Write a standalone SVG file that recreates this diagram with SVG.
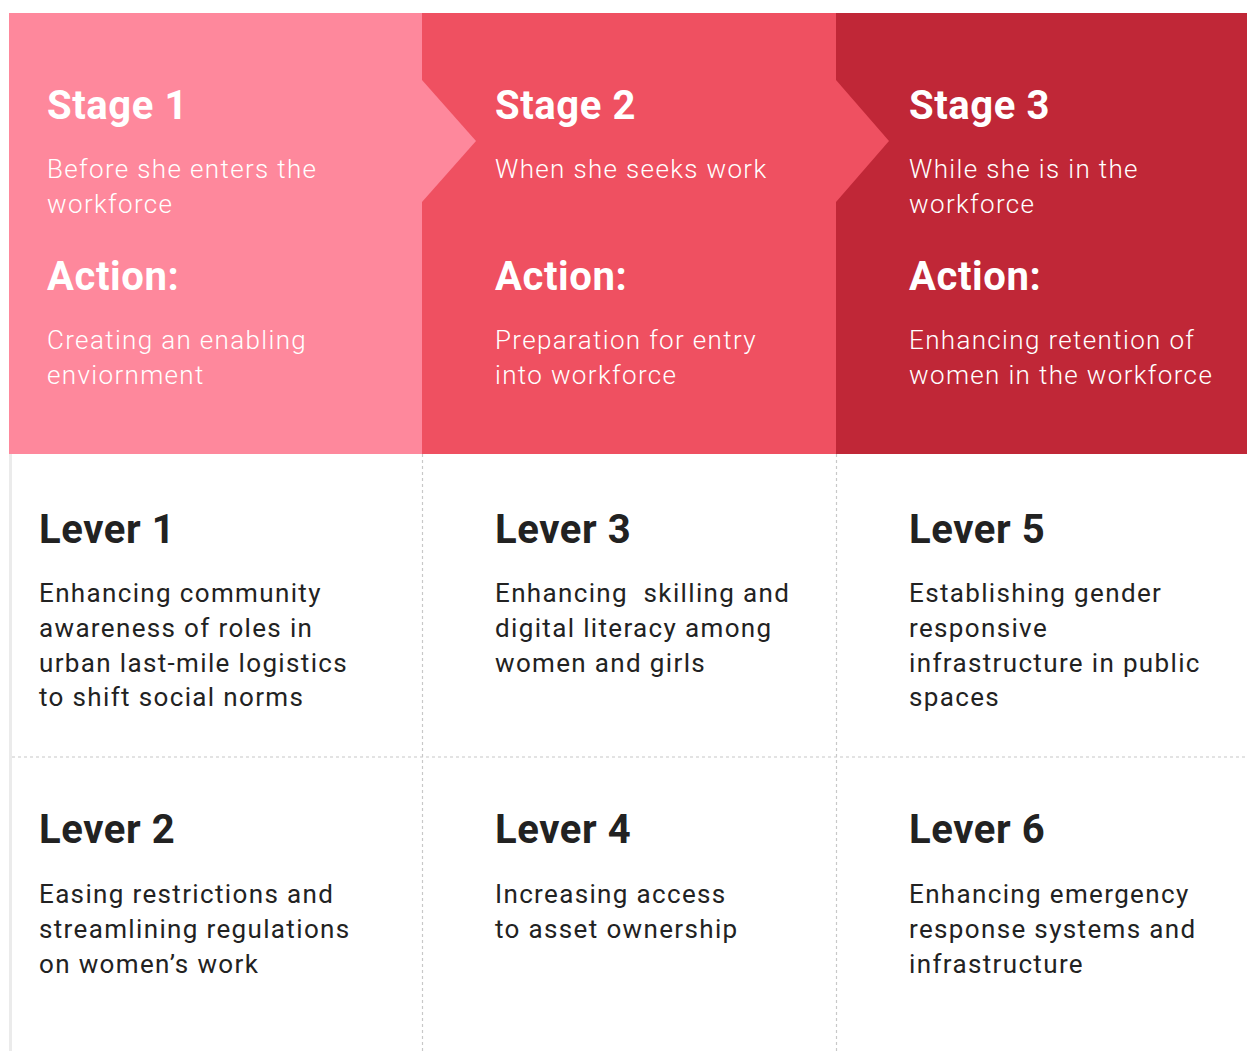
<svg xmlns="http://www.w3.org/2000/svg" width="1247" height="1051" viewBox="0 0 1247 1051">
  <defs>
    <style>
      .title { font-family: Roboto, "Liberation Sans", sans-serif; font-weight: 700; font-size: 40px; letter-spacing: 0.6px; }
      .body { font-family: Roboto, "Liberation Sans", sans-serif; font-size: 26px; letter-spacing: 1.35px; }
      .light { fill: #ffffff; font-weight: 300; }
      .dark { fill: #222222; font-weight: 400; }
      .grid { stroke: #c8c8c8; stroke-width: 1.2; stroke-dasharray: 3 3; fill: none; }
    </style>
  </defs>
  <rect width="1247" height="1051" fill="#ffffff"/>

  <!-- stage panels -->
  <g id="stage1">
    <rect x="9" y="13" width="413" height="441" fill="#fe889c"/>
    <text class="title" x="47" y="119" fill="#ffffff">Stage 1</text>
    <text class="body light" x="47" y="178">Before she enters the</text>
    <text class="body light" x="47" y="213">workforce</text>
    <text class="title" x="47" y="290" fill="#ffffff">Action:</text>
    <text class="body light" x="47" y="349">Creating an enabling</text>
    <text class="body light" x="47" y="384">enviornment</text>
  </g>
  <g id="stage2">
    <rect x="422" y="13" width="414" height="441" fill="#ef5061"/>
    <polygon points="422,80 476,141 422,202" fill="#fe889c"/>
    <text class="title" x="495" y="119" fill="#ffffff">Stage 2</text>
    <text class="body light" x="495" y="178">When she seeks work</text>
    <text class="title" x="495" y="290" fill="#ffffff">Action:</text>
    <text class="body light" x="495" y="349">Preparation for entry</text>
    <text class="body light" x="495" y="384">into workforce</text>
  </g>
  <g id="stage3">
    <rect x="836" y="13" width="411" height="441" fill="#c02737"/>
    <polygon points="836,80 889,141 836,202" fill="#ef5061"/>
    <text class="title" x="909" y="119" fill="#ffffff">Stage 3</text>
    <text class="body light" x="909" y="178">While she is in the</text>
    <text class="body light" x="909" y="213">workforce</text>
    <text class="title" x="909" y="290" fill="#ffffff">Action:</text>
    <text class="body light" x="909" y="349">Enhancing retention of</text>
    <text class="body light" x="909" y="384">women in the workforce</text>
  </g>

  <!-- grid lines -->
  <g id="connectors">
    <rect x="9" y="454" width="3" height="597" fill="#ebebeb"/>
    <line class="grid" x1="422.5" y1="454" x2="422.5" y2="1051"/>
    <line class="grid" x1="836.5" y1="454" x2="836.5" y2="1051"/>
    <line class="grid" x1="12" y1="757" x2="1247" y2="757"/>
  </g>

  <!-- levers -->
  <g id="lever1">
    <text class="title" x="39" y="543" fill="#222222">Lever 1</text>
    <text class="body dark" x="39" y="602">Enhancing community</text>
    <text class="body dark" x="39" y="637">awareness of roles in</text>
    <text class="body dark" x="39" y="672">urban last-mile logistics</text>
    <text class="body dark" x="39" y="706">to shift social norms</text>
  </g>
  <g id="lever3">
    <text class="title" x="495" y="543" fill="#222222">Lever 3</text>
    <text class="body dark" x="495" y="602" xml:space="preserve">Enhancing  skilling and</text>
    <text class="body dark" x="495" y="637">digital literacy among</text>
    <text class="body dark" x="495" y="672">women and girls</text>
  </g>
  <g id="lever5">
    <text class="title" x="909" y="543" fill="#222222">Lever 5</text>
    <text class="body dark" x="909" y="602">Establishing gender</text>
    <text class="body dark" x="909" y="637">responsive</text>
    <text class="body dark" x="909" y="672">infrastructure in public</text>
    <text class="body dark" x="909" y="706">spaces</text>
  </g>
  <g id="lever2">
    <text class="title" x="39" y="843" fill="#222222">Lever 2</text>
    <text class="body dark" x="39" y="903">Easing restrictions and</text>
    <text class="body dark" x="39" y="938">streamlining regulations</text>
    <text class="body dark" x="39" y="973">on women’s work</text>
  </g>
  <g id="lever4">
    <text class="title" x="495" y="843" fill="#222222">Lever 4</text>
    <text class="body dark" x="495" y="903">Increasing access</text>
    <text class="body dark" x="495" y="938">to asset ownership</text>
  </g>
  <g id="lever6">
    <text class="title" x="909" y="843" fill="#222222">Lever 6</text>
    <text class="body dark" x="909" y="903">Enhancing emergency</text>
    <text class="body dark" x="909" y="938">response systems and</text>
    <text class="body dark" x="909" y="973">infrastructure</text>
  </g>
</svg>
